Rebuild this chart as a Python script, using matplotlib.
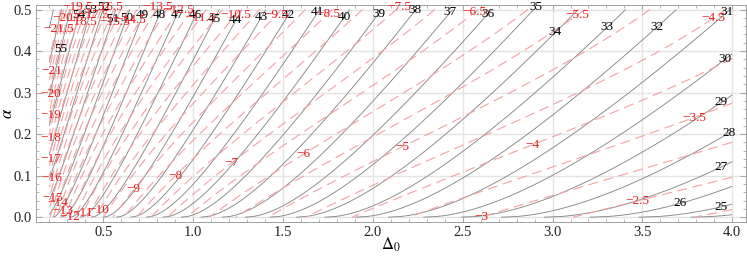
import numpy as np
import matplotlib
matplotlib.use("Agg")
import matplotlib.pyplot as plt
from matplotlib.ticker import MultipleLocator, FormatStrFormatter

# ---------------- data ----------------
# Solid (grey) contour family: points lying on level lines (Delta0, alpha, level)
black_bottom_delta = [3.73, 3.37, 3.04, 2.77, 2.51, 2.28, 2.07, 1.89, 1.71, 1.56,
                      1.41, 1.30, 1.18, 1.04, 0.93]
black_bottom_level = [25, 26, 27, 28, 29, 30, 31, 32, 33, 34, 35, 36, 37, 38, 39]

black_top_delta = [0.343, 0.407, 0.491, 0.556, 0.648, 0.741, 0.828, 0.926, 1.028,
                   1.139, 1.25, 1.389, 1.537, 1.685, 1.833, 2.018, 2.213, 2.407,
                   2.63, 2.889, 2.99, 3.287, 3.583, 0.25]
black_top_alpha = [0.486, 0.498, 0.505, 0.476, 0.48, 0.486, 0.486, 0.488, 0.486,
                   0.478, 0.474, 0.483, 0.486, 0.493, 0.483, 0.49, 0.498, 0.493,
                   0.49, 0.507, 0.445, 0.457, 0.457, 0.404]
black_top_level = [54, 53, 52, 51, 50, 49, 48, 47, 46, 45, 44, 43, 42, 41, 40, 39,
                   38, 37, 36, 35, 34, 33, 32, 55]

black_right_delta = [3.94, 3.71, 3.94, 3.98, 3.94, 3.96, 3.97]
black_right_alpha = [0.022, 0.038, 0.125, 0.202, 0.277, 0.373, 0.469]
black_right_level = [25, 26, 27, 28, 29, 30, 31]

# Dashed (red) contour family: label points (Delta0, alpha, level)
red_delta = [0.194, 0.25, 0.296, 0.389, 0.472, 0.539, 0.60, 0.683, 0.822, 0.956,
             1.044, 1.25, 1.455, 1.733, 2.10, 2.54, 3.12, 3.94,
             0.189, 0.211, 0.211, 0.211, 0.211, 0.211, 0.194,
             0.254, 0.278, 0.306, 0.398, 0.472,
             0.667, 0.907, 1.23, 1.61, 2.16, 2.85,
             3.79, 2.58, 3.51]
red_alpha = [0.454, 0.48, 0.507, 0.471, 0.488, 0.505, 0.469, 0.474, 0.507, 0.50,
             0.48, 0.488, 0.486, 0.49, 0.505, 0.493, 0.488, 0.48,
             0.353, 0.296, 0.245, 0.19, 0.139, 0.094, 0.046,
             0.033, 0.014, 0.0, 0.01, 0.017,
             0.067, 0.10, 0.131, 0.151, 0.17, 0.174,
             0.24, 0.0, 0.039]
red_level = [-21.5, -20.5, -19.5, -18.5, -17.5, -16.5, -15.5, -14.5, -13.5, -12.5,
             -11.5, -10.5, -9.5, -8.5, -7.5, -6.5, -5.5, -4.5,
             -21, -20, -19, -18, -17, -16, -15,
             -14, -13, -12, -11, -10,
             -9, -8, -7, -6, -5, -4,
             -3.5, -3, -2.5]

black_levels = np.arange(24, 59, 1)
red_levels = np.arange(-22.0, -1.9, 0.5)

# ---------------- smooth fields through the read points ----------------
def black_basis(d, a):
    d = np.asarray(d, float); a = np.clip(np.asarray(a, float), 0, None)
    u = np.log(d); s = np.sqrt(a)
    return np.stack([np.ones_like(u), u, u**2, s, a, u*s, u*a], axis=-1)

def red_basis(d, a):
    d = np.asarray(d, float); a = np.asarray(a, float)
    u = np.log(d)
    return np.stack([np.ones_like(u), u, u**2, a, a**2, u*a, u*u*a, u*a*a], axis=-1)

PX_X, PX_Y = 179.7, 416.0   # pixels per data unit (for position-based weighting)

def fit_field(basis, d, a, lv, n_iter=6):
    d = np.asarray(d, float); a = np.asarray(a, float); lv = np.asarray(lv, float)
    M = basis(d, a)
    w = np.ones_like(lv)
    for _ in range(n_iter):
        c, *_ = np.linalg.lstsq(M * w[:, None], lv * w, rcond=None)
        h = 1e-3
        gx = (basis(d + h, a) @ c - basis(d - h, a) @ c) / (2*h) / PX_X
        gy = (basis(d, a + h) @ c - basis(d, a - h) @ c) / (2*h) / PX_Y
        w = 1.0 / np.maximum(np.hypot(gx, gy), 1e-3)
    return c

bd = black_bottom_delta + black_top_delta + black_right_delta
ba = [0.0]*len(black_bottom_delta) + black_top_alpha + black_right_alpha
bl = black_bottom_level + black_top_level + black_right_level
cb = fit_field(black_basis, bd, ba, bl)
cr = fit_field(red_basis, red_delta, red_alpha, red_level)

dg = np.linspace(0.2, 4.0, 500)
ag = np.linspace(0.0, 0.5, 300)
D, A = np.meshgrid(dg, ag)
B = black_basis(D, A) @ cb
R = red_basis(D, A) @ cr

# ---------------- figure ----------------
plt.rcParams["font.family"] = ["Liberation Serif", "DejaVu Serif"]
plt.rcParams["mathtext.fontset"] = "stix"

fig = plt.figure(figsize=(7.47, 2.56), dpi=100)
ax = fig.add_axes([35.7/747, 1-221.5/256, 710.2/747, 216.3/256])

ax.grid(True, which="major", color="#e4e4e4", lw=1.0, zorder=0)
ax.set_axisbelow(True)

ax.contour(D, A, B, levels=black_levels, colors="#888888", linewidths=0.65, zorder=2)
cs_r = ax.contour(D, A, R, levels=red_levels, colors="#f4a2a2", linewidths=0.8,
                  linestyles="dashed", zorder=3)
cs_r.set_linestyle((0, (9, 5)))

def fmt(v):
    s = f"{v:g}"
    return s.replace("-", "\u2212")

dd = np.linspace(0.1, 4.4, 4000)
def solve_delta(basis, coef, level, alpha, decreasing):
    f = basis(dd, np.full_like(dd, alpha)) @ coef
    x = dd
    if decreasing:
        f = f[::-1]; x = x[::-1]
    return np.interp(level, f, x)

aa = np.linspace(-0.05, 0.6, 3000)
def solve_alpha(basis, coef, level, delta):
    f = basis(np.full_like(aa, delta), aa) @ coef
    return np.interp(level, f, aa)

lab_fs = 9.5
for d0, a0, lv in zip(black_top_delta, black_top_alpha, black_top_level):
    x = solve_delta(black_basis, cb, lv, a0, True)
    ax.text(x, a0, fmt(lv), ha="center", va="center", fontsize=lab_fs, color="black", zorder=5)
for d0, a0, lv in zip(black_right_delta, black_right_alpha, black_right_level):
    y = solve_alpha(black_basis, cb, lv, d0)
    ax.text(d0, y, fmt(lv), ha="center", va="center", fontsize=lab_fs, color="black", zorder=5)
for d0, a0, lv in zip(red_delta, red_alpha, red_level):
    x = solve_delta(red_basis, cr, lv, a0, False)
    ax.text(x, a0, fmt(lv), ha="center", va="center", fontsize=lab_fs, color="#ee1c1c", zorder=6)

ax.set_xlim(0.124, 4.076)
ax.set_ylim(-0.0104, 0.5104)
ax.xaxis.set_major_locator(MultipleLocator(0.5))
ax.xaxis.set_minor_locator(MultipleLocator(0.1))
ax.yaxis.set_major_locator(MultipleLocator(0.1))
ax.yaxis.set_minor_locator(MultipleLocator(0.02))
ax.xaxis.set_major_formatter(FormatStrFormatter("%.1f"))
ax.yaxis.set_major_formatter(FormatStrFormatter("%.1f"))
ax.tick_params(which="both", direction="in", top=True, right=True, colors="#9a9a9a",
               labelcolor="#222222", labelsize=10.5)
ax.tick_params(which="major", length=4, width=0.6, pad=3)
ax.tick_params(which="minor", length=2, width=0.5)
for sp in ax.spines.values():
    sp.set_color("#a0a0a0"); sp.set_linewidth(0.7)

ax.set_xlabel(r"$\Delta_0$", fontsize=12)
ax.xaxis.label.set_va("center")
ax.xaxis.set_label_coords(0.5, -0.11)
ax.set_ylabel(r"$\alpha$", fontsize=12)
ax.yaxis.label.set_va("center")
ax.yaxis.set_label_coords(-0.039, 0.5)

fig.savefig("out.png", dpi=100)
